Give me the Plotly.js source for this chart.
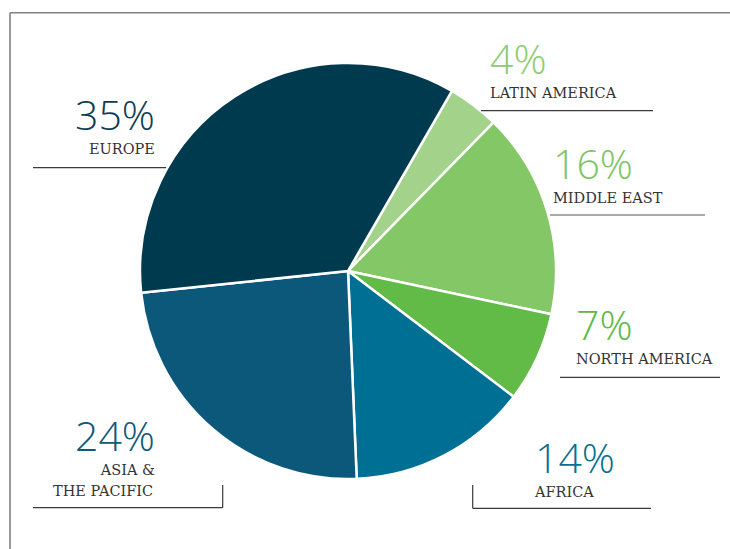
<!DOCTYPE html>
<html>
<head>
<meta charset="utf-8">
<script src="https://cdn.plot.ly/plotly-3.0.1.min.js"></script>
<style>html,body{margin:0;padding:0;background:#fff;}#chart{width:730px;height:549px;}</style>
</head>
<body>
<div id="chart"></div>
<script>
// ---- data ----
const regions = ["LATIN AMERICA", "MIDDLE EAST", "NORTH AMERICA", "AFRICA", "ASIA & THE PACIFIC", "EUROPE"];
const shares = [4, 16, 7, 14, 24, 35];
const pctLabels = ["4%", "16%", "7%", "14%", "24%", "35%"];
const nameLines = [["LATIN AMERICA"], ["MIDDLE EAST"], ["NORTH AMERICA"], ["AFRICA"], ["ASIA &", "THE PACIFIC"], ["EUROPE"]];

// ---- styles ----
const sliceColors = ["#a3d38b", "#84c766", "#62bb46", "#006f94", "#0b587b", "#003a4f"];
const pctColors = ["#8dcc74", "#7dc466", "#5cba45", "#0a6f93", "#10577a", "#0d3d52"];
const W = 730, H = 549;
const px = x => x / W, py = y => 1 - y / H;

// label placement (pixel): x, anchor, baseline of the percentage
const place = [
  {x: 488, anchor: "left", base: 73.5},
  {x: 551, anchor: "left", base: 178.5},
  {x: 574, anchor: "left", base: 340},
  {x: 532, anchor: "left", base: 472.5},
  {x: 157, anchor: "right", base: 451},
  {x: 157, anchor: "right", base: 129.5}
];
const PCT_SIZE = 41, NAME_SIZE = 14.5, BASE_SIZE = 18.5;

const annotations = [];
regions.forEach((r, i) => {
  const p = place[i];
  const names = nameLines[i];
  const pctSpan = `<span style="font-family:'Open Sans';font-weight:300;font-size:${PCT_SIZE}px;color:${pctColors[i]}">${pctLabels[i]}</span>`;
  const nameSpan = t => `<span style="font-size:${NAME_SIZE}px">${t.replace("&", "&amp;")}</span>`;
  // percentage + first name line together
  annotations.push({
    xref: "paper", yref: "paper", x: px(p.x), y: py(p.base - 1.069 * PCT_SIZE - 2),
    xanchor: p.anchor, yanchor: "top", align: p.anchor, showarrow: false,
    text: pctSpan + "<br>" + nameSpan(names[0]),
    font: {family: "DejaVu Serif", size: BASE_SIZE, color: "#333333"}
  });
  // extra name lines
  names.slice(1).forEach((t, j) => {
    annotations.push({
      xref: "paper", yref: "paper", x: px(p.x - 2), y: py(p.base + 24 + 20.7 * (j + 1) - 5),
      xanchor: p.anchor, yanchor: "middle", align: p.anchor, showarrow: false,
      text: t.replace("&", "&amp;"),
      font: {family: "DejaVu Serif", size: NAME_SIZE, color: "#333333"}
    });
  });
});

const ln = (x0, y0, x1, y1, color, width, layer) => ({
  type: "line", xref: "paper", yref: "paper",
  x0: px(x0), y0: py(y0), x1: px(x1), y1: py(y1),
  line: {color: color || "#3a3a3a", width: width || 1.2}, layer: layer || "above"
});

const shapes = [
  ln(10, 12.7, 730, 12.7, "#808080", 1.6),
  ln(10, 12.7, 10, 549, "#808080", 1.6),
  ln(33, 167.7, 175, 167.7, "#3a3a3a", 1.2, "below"),
  ln(481, 110.7, 653, 110.7),
  ln(550, 215, 705, 215, "#555555"),
  ln(560, 377.3, 720, 377.3),
  ln(472.7, 485, 472.7, 508.3),
  ln(472.7, 508.3, 651, 508.3),
  ln(33, 507.7, 222.7, 507.7),
  ln(222.7, 485, 222.7, 507.7)
];

const cx = 348, cy = 271, R = 208;
const trace = {
  type: "pie",
  labels: regions,
  values: shares,
  sort: false,
  direction: "clockwise",
  rotation: 30,
  textinfo: "none",
  hoverinfo: "none",
  showlegend: false,
  marker: {colors: sliceColors, line: {color: "#ffffff", width: 2.5}},
  domain: {x: [(cx - R) / W, (cx + R) / W], y: [(H - cy - R) / H, (H - cy + R) / H]}
};

Plotly.newPlot("chart", [trace], {
  width: W, height: H,
  margin: {l: 0, r: 0, t: 0, b: 0},
  paper_bgcolor: "#ffffff",
  showlegend: false,
  annotations: annotations,
  shapes: shapes
}, {displayModeBar: false, staticPlot: true});
</script>
</body>
</html>
